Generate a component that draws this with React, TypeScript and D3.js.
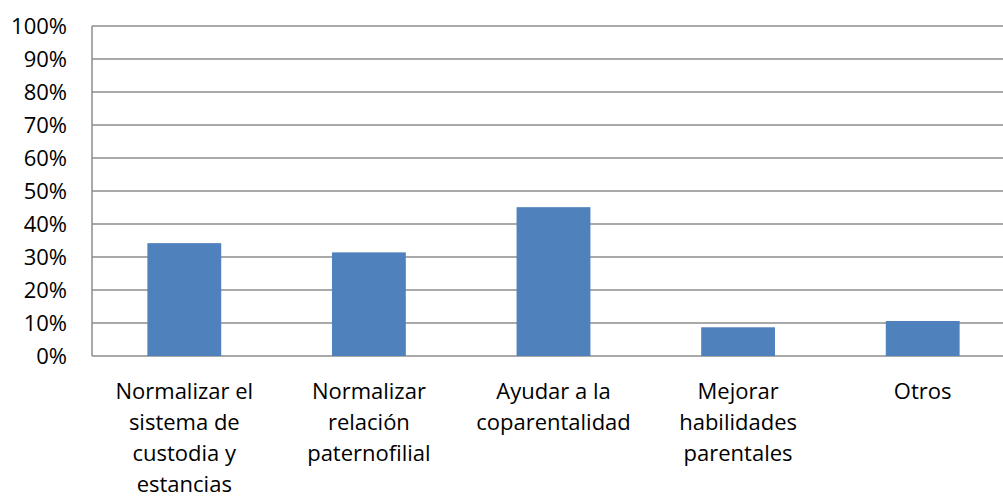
import * as d3 from "d3";

const categories = [
  "Normalizar el sistema de custodia y estancias",
  "Normalizar relación paternofilial",
  "Ayudar a la coparentalidad",
  "Mejorar habilidades parentales",
  "Otros",
];
const labelLines = [
  ["Normalizar el", "sistema de", "custodia y", "estancias"],
  ["Normalizar", "relación", "paternofilial"],
  ["Ayudar a la", "coparentalidad"],
  ["Mejorar", "habilidades", "parentales"],
  ["Otros"],
];
const values = [0.342, 0.314, 0.451, 0.087, 0.106];
const yTicks = [0, 0.1, 0.2, 0.3, 0.4, 0.5, 0.6, 0.7, 0.8, 0.9, 1];

const width = 1003;
const height = 498;
const left = 92;
const right = 1015;
const top = 26;
const bottom = 356;

export default function App() {
  const x = d3
    .scaleBand<string>()
    .domain(categories)
    .range([left, right])
    .paddingInner(0.6)
    .paddingOuter(0.3);
  const y = d3.scaleLinear().domain([0, 1]).range([bottom, top]);
  const fmt = d3.format(".0%");
  const font = "'Open Sans', sans-serif";

  return (
    <div style={{ position: "absolute", left: 0, top: 0 }}>
      <svg width={width} height={height} style={{ display: "block", background: "#fff" }}>
        {yTicks.map((t) => (
          <g key={t}>
            <line x1={left} x2={right} y1={y(t)} y2={y(t)} stroke="#8c8c8c" strokeWidth={1.5} />
            <text
              x={67}
              y={y(t)}
              dy="0.36em"
              textAnchor="end"
              fontFamily={font}
              fontSize={22}
              fill="#000"
            >
              {fmt(t)}
            </text>
          </g>
        ))}
        <line x1={left} x2={left} y1={top} y2={bottom} stroke="#8c8c8c" strokeWidth={1.5} />
        {categories.map((c, i) => (
          <rect
            key={c}
            x={x(c)}
            y={y(values[i])}
            width={x.bandwidth()}
            height={y(0) - y(values[i])}
            fill="#4f81bd"
          />
        ))}
        {categories.map((c, i) => (
          <text
            key={c}
            x={(x(c) ?? 0) + x.bandwidth() / 2}
            y={399}
            textAnchor="middle"
            fontFamily={font}
            fontSize={22}
            fill="#000"
          >
            {labelLines[i].map((l, j) => (
              <tspan key={j} x={(x(c) ?? 0) + x.bandwidth() / 2} dy={j === 0 ? 0 : 31}>
                {l}
              </tspan>
            ))}
          </text>
        ))}
      </svg>
    </div>
  );
}
